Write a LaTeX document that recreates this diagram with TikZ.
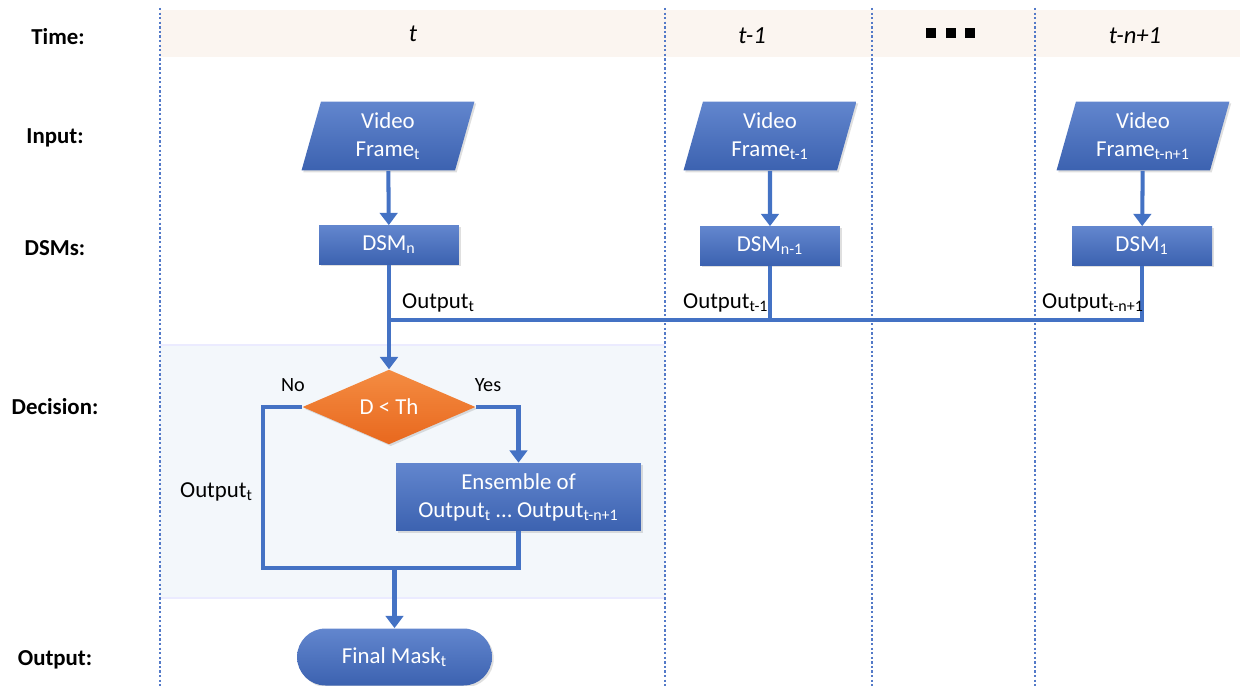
\documentclass[tikz,border=0pt]{standalone}
\usepackage{fontspec}
\setmainfont{Carlito}
\usetikzlibrary{shapes,arrows.meta,shadows}

\begin{document}
\begin{tikzpicture}[x=0.02cm, y=-0.02cm, font=\fontsize{13}{16}\selectfont]
	% Defines colors to match the image
	\definecolor{boxtop}{RGB}{98,134,206}
	\definecolor{boxbot}{RGB}{60,98,176}
	\definecolor{flowline}{RGB}{68,114,196}
	\definecolor{decitop}{RGB}{244,140,66}
	\definecolor{decibot}{RGB}{232,104,30}
	\definecolor{timeband}{RGB}{251,245,240}
	\definecolor{deciband}{RGB}{243,247,251}
	\definecolor{gridline}{RGB}{84,122,200}

	% Styles for blocks and connectors
	\tikzset{
		block/.style={rectangle, top color=boxtop, bottom color=boxbot, text=white, align=center,
			drop shadow={opacity=0.25, shadow xshift=1pt, shadow yshift=-1pt}},
		frame/.style={block, trapezium, trapezium left angle=69, trapezium right angle=111,
			trapezium stretches body, minimum width=3.46cm, minimum height=1.38cm, inner sep=1pt},
		dsm/.style={block, minimum width=2.8cm, minimum height=0.78cm},
		decision/.style={diamond, top color=decitop, bottom color=decibot, text=white,
			minimum width=3.46cm, minimum height=1.16cm, inner sep=0pt,
			drop shadow={opacity=0.25, shadow xshift=1pt, shadow yshift=-1pt}},
		flow/.style={draw=flowline, line width=2.3pt},
		arrow/.style={flow, -{Triangle[length=7pt, width=10pt]}},
		rowlabel/.style={font=\fontsize{13}{16}\selectfont\bfseries},
		coltitle/.style={font=\fontsize{14}{16}\selectfont\itshape},
		branch/.style={font=\fontsize{11.5}{14}\selectfont},
	}

	\useasboundingbox (0,0) rectangle (1244,686);

	% --- Background bands ---
	\fill[timeband] (160,10) rectangle (1240,57);
	\fill[deciband] (160,345) rectangle (665,598);
	\draw[blue!8, line width=0.8pt] (160,345) -- (665,345) (160,598) -- (665,598);

	% --- Column separators ---
	\foreach \x in {160,665,872,1035}
		\draw[gridline, line width=1.5pt, dash pattern=on 1.3pt off 1.3pt] (\x,8) -- (\x,686);

	% --- Row labels ---
	\node[rowlabel] (ltime) at (58,37) {Time:};
	\node[rowlabel] (linput) at (55,138) {Input:};
	\node[rowlabel] (ldsm) at (55,248) {DSMs:};
	\node[rowlabel] (ldec) at (55,407) {Decision:};
	\node[rowlabel] (lout) at (55,660) {Output:};

	% --- Column titles ---
	\node[coltitle] (tnow) at (413,34) {t};
	\node[coltitle] (tprev) at (752,36) {t-1};
	\node[coltitle] (tlast) at (1135,36) {t-n+1};
	\foreach \x in {931,951,970}
		\fill (\x-5,28) rectangle (\x+5,38);

	% --- Inputs ---
	\node[frame] (vf1) at (388,136) {Video\\Frame\textsubscript{t}};
	\node[frame] (vf2) at (770,136) {Video\\Frame\textsubscript{t-1}};
	\node[frame] (vf3) at (1143,136) {Video\\Frame\textsubscript{t-n+1}};

	% --- DSMs ---
	\node[dsm] (dsm1) at (389,245) {DSM\textsubscript{n}};
	\node[dsm] (dsm2) at (770,246) {DSM\textsubscript{n-1}};
	\node[dsm] (dsm3) at (1142,246) {DSM\textsubscript{1}};

	\draw[arrow] (vf1) -- (dsm1);
	\draw[arrow] (vf2) -- (dsm2);
	\draw[arrow] (vf3) -- (dsm3);

	% --- Decision ---
	\node[decision] (dec) at (389,407) {D < Th};
	\node[block, minimum width=4.9cm, minimum height=1.36cm] (ens) at (518.5,497)
		{Ensemble of\\Output\textsubscript{t} \ldots{} Output\textsubscript{t-n+1}};
	\node[block, rounded corners=0.57cm, minimum width=3.9cm, minimum height=1.14cm] (mask)
		at (394.5,657) {Final Mask\textsubscript{t}};

	% Output bus from every DSM
	\coordinate (bus) at (389,320);
	\coordinate (mrgL) at (263,568);
	\coordinate (mrg) at (394.5,568);
	\draw[flow] (dsm3.south) |- (bus);
	\draw[flow] (dsm2.south) -- (dsm2.south |- bus);
	\draw[arrow] (dsm1.south) -- (dec.north);

	% Branches of the decision
	\draw[arrow] (dec.east) -| (ens.north);
	\draw[flow] (dec.west) -| (mrgL) -| (ens.south);
	\draw[arrow] (mrg) -- (mask.north);

	% --- Connector labels ---
	\node[anchor=west] (onow) at (396,303) {Output\textsubscript{t}};
	\node[anchor=west] (oprev) at (677,303) {Output\textsubscript{t-1}};
	\node[anchor=west] (olast) at (1036,303) {Output\textsubscript{t-n+1}};
	\node[anchor=east] (oskip) at (259,492) {Output\textsubscript{t}};
	\node[branch] (lno) at (293,385) {No};
	\node[branch] (lyes) at (488,385) {Yes};
\end{tikzpicture}
\end{document}
